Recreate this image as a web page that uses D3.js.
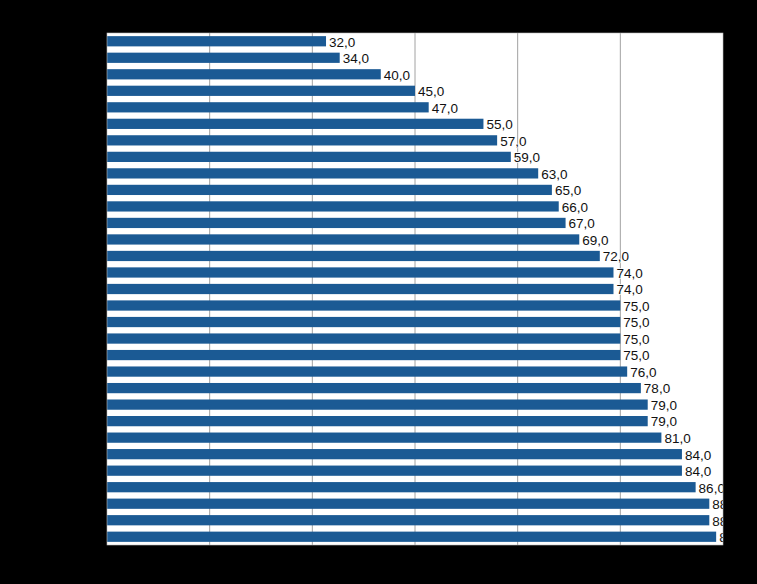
<!DOCTYPE html>
<html><head><meta charset="utf-8">
<script src="https://cdn.jsdelivr.net/npm/d3@7"></script>
<style>html,body{margin:0;padding:0;background:#000;}</style>
</head><body>
<script>
const values = [32,34,40,45,47,55,57,59,63,65,66,67,69,72,74,74,75,75,75,75,76,78,79,79,81,84,84,86,88,88,89];
const categories = values.map((d,i)=>"Item " + (i+1));
const xTicks = [0,15,30,45,60,75,90];

const W=757,H=584;
const m={left:107,top:33,right:34,bottom:39};
const svg=d3.select("body").append("svg").attr("width",W).attr("height",H).style("background","#000").style("display","block");
svg.append("rect").attr("width",W).attr("height",H).attr("fill","#000");
const pw=W-m.left-m.right, ph=H-m.top-m.bottom;
const x=d3.scaleLinear().domain([0,90]).range([0,pw]);
const y=d3.scaleBand().domain(categories).range([0,ph]).paddingInner(0.38).paddingOuter(0.19);
const g=svg.append("g").attr("transform",`translate(${m.left},${m.top})`);
svg.append("defs").append("clipPath").attr("id","clip").append("rect").attr("width",pw).attr("height",ph);
g.append("rect").attr("width",pw).attr("height",ph).attr("fill","#fff");
g.append("g").selectAll("line").data(xTicks.slice(1,-1)).join("line")
 .attr("x1",d=>x(d)).attr("x2",d=>x(d)).attr("y1",0).attr("y2",ph).attr("stroke","#8a8a8a").attr("stroke-width",0.8);
g.append("g").call(d3.axisLeft(y).tickSize(0)).call(a=>a.select(".domain").remove())
 .selectAll("text").attr("fill","#000").style("font","12px 'Liberation Sans',Arial,sans-serif");
g.append("g").attr("transform",`translate(0,${ph})`).call(d3.axisBottom(x).tickValues(xTicks).tickSize(0))
 .call(a=>a.select(".domain").remove()).selectAll("text").attr("fill","#000");
const c=g.append("g").attr("clip-path","url(#clip)");
c.selectAll("rect.bar").data(values).join("rect").attr("class","bar")
 .attr("x",0).attr("y",(d,i)=>y(categories[i])).attr("width",d=>x(d)).attr("height",y.bandwidth())
 .attr("fill","#1b5a94");
c.selectAll("text.lbl").data(values).join("text").attr("class","lbl")
 .attr("x",d=>x(d)+3).attr("y",(d,i)=>y(categories[i])+y.bandwidth()/2+0.5).attr("dy","0.36em")
 .text(d=>d.toFixed(1).replace(".",","))
 .style("font","13.5px 'Liberation Sans',Arial,sans-serif").attr("fill","#111")
 .style("paint-order","stroke").attr("stroke","#fff").attr("stroke-width",1.5);
g.append("rect").attr("width",pw).attr("height",ph).attr("fill","none").attr("stroke","#bbb").attr("stroke-width",0.6);
</script>
</body></html>
